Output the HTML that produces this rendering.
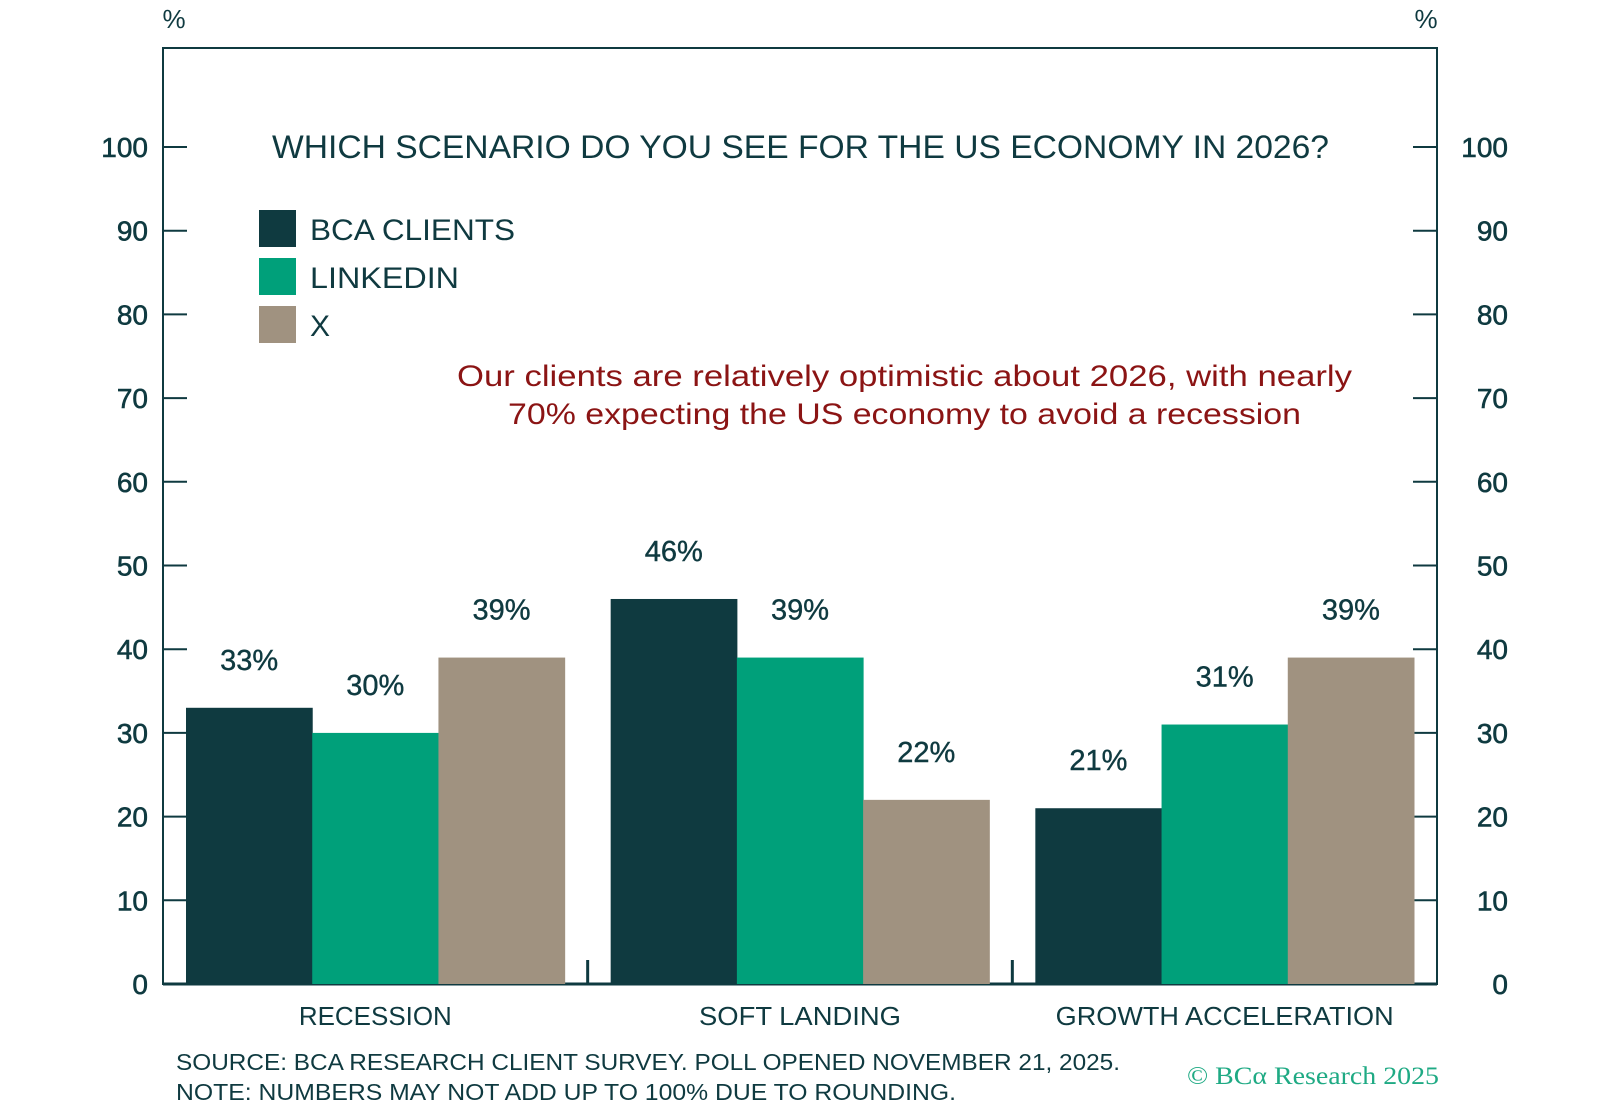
<!DOCTYPE html>
<html><head><meta charset="utf-8"><style>
html,body{margin:0;padding:0;background:#fff;}
svg{display:block;font-family:"Liberation Sans",sans-serif;}
</style></head><body>
<svg id="chart" width="1600" height="1120" viewBox="0 0 1600 1120" xmlns="http://www.w3.org/2000/svg">
<g id="frame"></g>
<g id="bars"></g>
<g id="labels"></g>
<text x="272" y="158" font-size="32" fill="#0f3a40" textLength="1057" lengthAdjust="spacingAndGlyphs">WHICH SCENARIO DO YOU SEE FOR THE US ECONOMY IN 2026?</text>
<g>
<rect x="259" y="210" width="37" height="37" fill="#0f3a40"/>
<text x="310" y="240" font-size="30" fill="#0f3a40" textLength="205" lengthAdjust="spacingAndGlyphs">BCA CLIENTS</text>
<rect x="259" y="258" width="37" height="37" fill="#00a07a"/>
<text x="310" y="288" font-size="30" fill="#0f3a40" textLength="149" lengthAdjust="spacingAndGlyphs">LINKEDIN</text>
<rect x="259" y="306" width="37" height="37" fill="#a09280"/>
<text x="310" y="336" font-size="30" fill="#0f3a40">X</text>
</g>
<text x="457" y="386" font-size="30" fill="#8b1414" textLength="895" lengthAdjust="spacingAndGlyphs">Our clients are relatively optimistic about 2026, with nearly</text>
<text x="508" y="424" font-size="30" fill="#8b1414" textLength="793" lengthAdjust="spacingAndGlyphs">70% expecting the US economy to avoid a recession</text>
<text x="174" y="28" font-size="26" fill="#0f3a40" text-anchor="middle">%</text>
<text x="1426" y="28" font-size="26" fill="#0f3a40" text-anchor="middle">%</text>
<text x="176" y="1070" font-size="23" fill="#0f3a40" textLength="944" lengthAdjust="spacingAndGlyphs">SOURCE: BCA RESEARCH CLIENT SURVEY. POLL OPENED NOVEMBER 21, 2025.</text>
<text x="176" y="1100" font-size="23" fill="#0f3a40" textLength="780" lengthAdjust="spacingAndGlyphs">NOTE: NUMBERS MAY NOT ADD UP TO 100% DUE TO ROUNDING.</text>
<text x="1187" y="1084" font-size="25" fill="#1faa84" textLength="252" lengthAdjust="spacingAndGlyphs" font-family="Liberation Serif, serif">© BCα Research 2025</text>
</svg>
<script>
const categories = ["RECESSION", "SOFT LANDING", "GROWTH ACCELERATION"];
const seriesNames = ["BCA CLIENTS", "LINKEDIN", "X"];
const bcaValues = [33, 46, 21];
const linkedinValues = [30, 39, 31];
const xValues = [39, 22, 39];
const yTicks = [0, 10, 20, 30, 40, 50, 60, 70, 80, 90, 100];

const NS = "http://www.w3.org/2000/svg";
const X0 = 163, X1 = 1437, Y0 = 984, Y100 = 147, TOP = 48;
const colors = ["#0f3a40", "#00a07a", "#a09280"];
const catLen = [153, 202, 338];
const yScale = v => Y0 - (Y0 - Y100) * v / 100;
const groupW = (X1 - X0) / categories.length;
const pad = 23;
const barW = (groupW - 2 * pad) / 3;
const xBand = (i, s) => X0 + i * groupW + pad + s * barW;

function mk(tag, attrs, parent) {
  const e = document.createElementNS(NS, tag);
  for (const k in attrs) e.setAttribute(k, attrs[k]);
  parent.appendChild(e);
  return e;
}
const frame = document.getElementById("frame");
const barsG = document.getElementById("bars");
const labelsG = document.getElementById("labels");
const ink = "#0f3a40";

let el = mk("rect", {x: X0, y: TOP, width: X1 - X0, height: Y0 - TOP, fill: "none", stroke: ink, "stroke-width": 2}, frame);



yTicks.forEach(t => {
  const y = yScale(t);
  if (t > 0) {
    let a = mk("line", {x1: X0, x2: X0 + 24, y1: y, y2: y, stroke: ink, "stroke-width": 2}, frame);
    
    
    let b = mk("line", {x1: X1 - 24, x2: X1, y1: y, y2: y, stroke: ink, "stroke-width": 2}, frame);
    
    
  }
  let l = mk("text", {x: 148, y: y + 10, "font-size": 28, fill: ink, "text-anchor": "end", stroke: ink, "stroke-width": 0.6}, frame);
  l.textContent = t;
  
  
  let r = mk("text", {x: 1508, y: y + 10, "font-size": 28, fill: ink, "text-anchor": "end", stroke: ink, "stroke-width": 0.6}, frame);
  r.textContent = t;
  
  
});

for (let i = 1; i < categories.length; i++) {
  const x = X0 + i * groupW;
  let s = mk("line", {x1: x, x2: x, y1: Y0 - 24, y2: Y0, stroke: ink, "stroke-width": 3}, frame);
  
  
}

const series = [bcaValues, linkedinValues, xValues];
const sKeys = ["bca", "linkedin", "x"];
categories.forEach((c, i) => {
  series.forEach((vals, s) => {
    const v = vals[i];
    const x = xBand(i, s), y = yScale(v);
    let r = mk("rect", {x: x, y: y, width: barW + 0.5, height: Y0 - y, fill: colors[s]}, barsG);
    
    
    let t = mk("text", {x: x + barW / 2, y: y - 38, "font-size": 29, fill: ink, "text-anchor": "middle", stroke: ink, "stroke-width": 0.4}, labelsG);
    t.textContent = v + "%";
    
    
  });
  const cx = X0 + i * groupW + groupW / 2;
  let cl = mk("text", {x: cx - catLen[i] / 2, y: 1025, "font-size": 26, fill: ink, textLength: catLen[i], lengthAdjust: "spacingAndGlyphs"}, labelsG);
  cl.textContent = c;
  
  
});
let base = mk("line", {x1: X0, x2: X1, y1: Y0, y2: Y0, stroke: ink, "stroke-width": 3}, frame);


</script>
</body></html>
